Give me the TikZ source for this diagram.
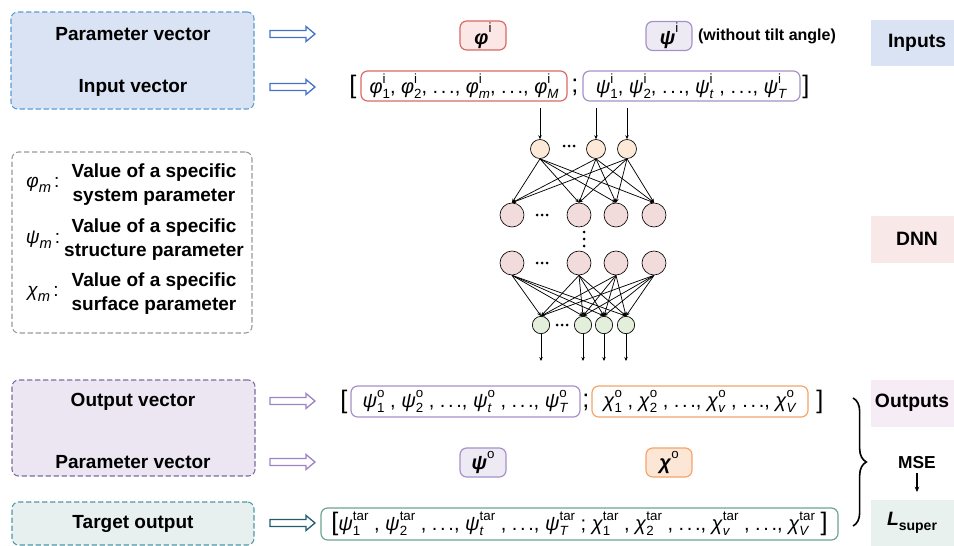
\documentclass[tikz,border=0pt]{standalone}
\usepackage{fontspec}
\setmainfont{Liberation Sans}
\usetikzlibrary{arrows.meta,decorations.pathreplacing,fit}
\definecolor{inFill}{HTML}{DAE3F3}
\definecolor{inLine}{HTML}{5B9BD5}
\definecolor{arrBlue}{HTML}{4472C4}
\definecolor{legLine}{HTML}{999999}
\definecolor{outFill}{HTML}{EBE6F1}
\definecolor{outLine}{HTML}{7F6A9E}
\definecolor{arrPurple}{HTML}{9C84C4}
\definecolor{tgtFill}{HTML}{E7F0EE}
\definecolor{tgtLine}{HTML}{4F97A8}
\definecolor{arrTeal}{HTML}{215E6E}
\definecolor{redLine}{HTML}{D86A63}
\definecolor{redFill}{HTML}{FBE8E6}
\definecolor{purLine}{HTML}{A591C9}
\definecolor{purFill}{HTML}{EEEAF4}
\definecolor{oraLine}{HTML}{F4A46A}
\definecolor{oraFill}{HTML}{FCE6D6}
\definecolor{grnLine}{HTML}{6BA58F}
\definecolor{dnnFill}{HTML}{F9E8E8}
\definecolor{outsFill}{HTML}{F6ECF6}
\definecolor{lsFill}{HTML}{E8F1EE}
\definecolor{nIn}{HTML}{FCE9D8}
\definecolor{nHid}{HTML}{F2DCDB}
\definecolor{nOut}{HTML}{E3EFDA}
\newcommand\subsz{\fontsize{10}{10}\selectfont}
\newcommand\SupSubX[2]{{\setbox0=\hbox{\subsz #1}\setbox2=\hbox{\subsz #2}%
\dimen0=\wd0 \ifdim\wd2>\dimen0 \dimen0=\wd2 \fi
\hbox to \dimen0{\rlap{\raise 0.95ex\box0}\lower 0.45ex\box2\hss}}}
\newcommand\VecEl[3]{\textit{#1}\SupSubX{#2}{#3}}
\newcommand\mydots{.\hspace{2pt}.\hspace{2pt}.}
\tikzset{
  harr/.pic={\draw[pic actions, line width=1pt, fill=white, line join=miter]
     (0,-3.5) -- (36,-3.5) -- (36,-7.5) -- (45,0) -- (36,7.5) -- (36,3.5) -- (0,3.5) -- cycle;},
  lbl/.style={font=\bfseries\fontsize{14.25}{17}\selectfont, inner sep=0},
  leg/.style={font=\bfseries\fontsize{14.25}{18}\selectfont, inner sep=0, align=center},
  dbox/.style={rounded corners=5pt, dash pattern=on 4pt off 2pt, line width=0.8pt, inner sep=0},
  rbox/.style={inner sep=0},
  vbox/.style={rounded corners=5pt, line width=0.9pt, fill=white, inner sep=0, font=\fontsize{15}{18}\selectfont},
  pbox/.style={rounded corners=5pt, line width=0.9pt, inner sep=0, minimum width=34.5pt, minimum height=21.75pt, font=\fontsize{15}{18}\selectfont},
  brk/.style={font=\fontsize{19}{20}\selectfont, inner sep=0},
  neuS/.style={circle, draw, line width=0.5pt, inner sep=0, minimum size=14.25pt},
  neuL/.style={circle, draw, line width=0.5pt, inner sep=0, minimum size=18pt},
  neuO/.style={circle, draw, line width=0.5pt, inner sep=0, minimum size=13pt},
  edge/.style={line width=0.55pt, -{Stealth[length=3pt,width=2.6pt]}},
}
\begin{document}
\begin{tikzpicture}[x=0.75pt,y=-0.75pt]
\useasboundingbox (0,0) rectangle (954,546);
% ---------- left boxes ----------
\node[dbox, draw=inLine, fill=inFill, fit={(11,12) (254,109)}] (inbox) {};
\node[lbl] (pv1) at (133,34.5) {Parameter vector};
\node[lbl] (iv) at (133,87.5) {Input vector};
\pic[draw=arrBlue] at (270,34) {harr};
\pic[draw=arrBlue] at (270,87) {harr};

\node[dbox, draw=legLine, fill=white, fit={(12,152) (252,333)}] (legbox) {};
\node[inner sep=0, font=\fontsize{14.25}{17}\selectfont] (s1) at (43,185) {\textit{φ}\raisebox{-0.5ex}{\fontsize{11}{11}\selectfont\textit{m}}\,:};
\node[inner sep=0, font=\fontsize{14.25}{17}\selectfont] (s2) at (43,240) {\textit{ψ}\raisebox{-0.5ex}{\fontsize{11}{11}\selectfont\textit{m}}\,:};
\node[inner sep=0, font=\fontsize{14.25}{17}\selectfont] (s3) at (43,294) {\textit{χ}\raisebox{-0.5ex}{\fontsize{11}{11}\selectfont\textit{m}}\,:};
\node[leg] (t1) at (154,185) {Value of a specific\\system parameter};
\node[leg] (t2) at (154,240) {Value of a specific\\structure parameter};
\node[leg] (t3) at (154,294) {Value of a specific\\surface parameter};

\node[dbox, draw=outLine, fill=outFill, fit={(12,380) (255,476)}] (outbox) {};
\node[lbl] (ov) at (133,401.5) {Output vector};
\node[lbl] (pv2) at (133,462.5) {Parameter vector};
\pic[draw=arrPurple] at (270,401) {harr};
\pic[draw=arrPurple] at (270,462) {harr};

\node[dbox, draw=tgtLine, fill=tgtFill, fit={(12,502) (254,545)}] (tgtbox) {};
\node[lbl] (to) at (133,523.5) {Target output};
\pic[draw=arrTeal, line width=1.3pt] at (270,523) {harr};

% ---------- top parameter boxes ----------
\node[pbox, draw=redLine, fill=redFill] (phib) at (483,35.5) {\textbf{\textit{φ}}\raisebox{1.1ex}{\subsz i}};
\node[pbox, draw=purLine, fill=purFill] (psib) at (669,36) {\textbf{\textit{ψ}}\raisebox{1.1ex}{\subsz i}};
\node[inner sep=0, font=\bfseries\fontsize{12}{14}\selectfont] (tilt) at (767,36.5) {(without tilt angle)};

% ---------- input vector ----------
\node[brk] (lb1) at (353,87) {[};
\node[vbox, draw=redLine, minimum width=154.5pt, minimum height=22.5pt] (phiv) at (464,86)
  {\VecEl{φ}{i}{1}, \VecEl{φ}{i}{2}, \mydots, \VecEl{φ}{i}{\textit{m}}, \mydots, \VecEl{φ}{i}{\textit{M}}};
\node[brk] (sc1) at (575,87) {;};
\node[vbox, draw=purLine, minimum width=162.75pt, minimum height=22.5pt] (psiv) at (691.5,86)
  {\VecEl{ψ}{i}{1}, \VecEl{ψ}{i}{2}, \mydots, \VecEl{ψ}{i}{\textit{t}} , \mydots, \VecEl{ψ}{i}{\textit{T}}};
\node[brk] (rb1) at (806,87) {]};

% ---------- DNN ----------
\node[neuS, fill=nIn] (i1) at (540,149) {};
\node[neuS, fill=nIn] (i2) at (596,149) {};
\node[neuS, fill=nIn] (i3) at (627,149) {};
\node[neuL, fill=nHid] (h1) at (512,215) {};
\node[neuL, fill=nHid] (h2) at (579,215) {};
\node[neuL, fill=nHid] (h3) at (616,215) {};
\node[neuL, fill=nHid] (h4) at (654,215) {};
\node[neuL, fill=nHid] (g1) at (512,263) {};
\node[neuL, fill=nHid] (g2) at (579,263) {};
\node[neuL, fill=nHid] (g3) at (616,263) {};
\node[neuL, fill=nHid] (g4) at (654,263) {};
\node[neuO, fill=nOut] (o1) at (541,325) {};
\node[neuO, fill=nOut] (o2) at (583,325) {};
\node[neuO, fill=nOut] (o3) at (604,325) {};
\node[neuO, fill=nOut] (o4) at (626,325) {};
\foreach \dx in {-5,0,5} {
  \fill (569+\dx,146) circle (1.5);
  \fill (542+\dx,215) circle (1.5);
  \fill (542+\dx,263) circle (1.5);
  \fill (562+\dx,325) circle (1.5);
}
\foreach \dy in {232,239,246} \fill (584,\dy) circle (1.5);
\foreach \a in {i1,i2,i3} \foreach \b in {h1,h2,h3,h4} \draw[edge] (\a.south) -- (\b.north);
\foreach \a in {g1,g2,g3,g4} \foreach \b in {o1,o2,o3,o4} \draw[edge] (\a.south) -- (\b.north);
\coordinate (a1) at (540,108); \coordinate (a2) at (596,108); \coordinate (a3) at (627,108);
\draw[edge] (a1) -- (i1.north); \draw[edge] (a2) -- (i2.north); \draw[edge] (a3) -- (i3.north);
\coordinate (b1) at (541,361); \coordinate (b2) at (583,361); \coordinate (b3) at (604,361); \coordinate (b4) at (626,361);
\draw[edge] (o1.south) -- (b1); \draw[edge] (o2.south) -- (b2); \draw[edge] (o3.south) -- (b3); \draw[edge] (o4.south) -- (b4);

% ---------- output vector ----------
\node[brk] (lb2) at (344,402) {[};
\node[vbox, draw=purLine, minimum width=171.75pt, minimum height=23.25pt] (psio) at (465.5,401.5)
  {\VecEl{ψ}{o}{1} , \VecEl{ψ}{o}{2} , \mydots, \VecEl{ψ}{o}{\textit{t}} , \mydots, \VecEl{ψ}{o}{\textit{T}}};
\node[brk] (sc2) at (586,402) {;};
\node[vbox, draw=oraLine, minimum width=162pt, minimum height=23.25pt] (chio) at (700,401.5)
  {\VecEl{χ}{o}{1} , \VecEl{χ}{o}{2} , \mydots, \VecEl{χ}{o}{\textit{v}} , \mydots, \VecEl{χ}{o}{\textit{V}}};
\node[brk] (rb2) at (820,402) {]};

\node[pbox, draw=purLine, fill=purFill] (psiob) at (483,462.5) {\textbf{\textit{ψ}}\raisebox{1.1ex}{\subsz o}};
\node[pbox, draw=oraLine, fill=oraFill] (chiob) at (669,462.5) {\textbf{\textit{χ}}\raisebox{1.1ex}{\subsz o}};

% ---------- target vector ----------
\node[vbox, draw=grnLine, minimum width=387.75pt, minimum height=24pt] (tgtv) at (579.5,524)
  {{\fontsize{19}{20}\selectfont[}\VecEl{ψ}{tar}{1} , \VecEl{ψ}{tar}{2} , \mydots, \VecEl{ψ}{tar}{\textit{t}} , \mydots, \VecEl{ψ}{tar}{\textit{T}} ; \VecEl{χ}{tar}{1} , \VecEl{χ}{tar}{2} , \mydots, \VecEl{χ}{tar}{\textit{v}} , \mydots, \VecEl{χ}{tar}{\textit{V}} {\fontsize{19}{20}\selectfont]}};

% ---------- right labels ----------
\node[rbox, fill=inFill, fit={(871,20) (954,66)}] (inputsb) {};
\node[lbl, font=\bfseries\fontsize{14.5}{17}\selectfont] (inputs) at (917,43) {Inputs};
\node[rbox, fill=dnnFill, fit={(871,216) (954,263)}] (dnnb) {};
\node[lbl, font=\bfseries\fontsize{14.5}{17}\selectfont] (dnn) at (917,239) {DNN};
\node[rbox, fill=outsFill, fit={(871,380) (954,427)}] (outsb) {};
\node[lbl, font=\bfseries\fontsize{14.5}{17}\selectfont] (outs) at (912,403) {Outputs};
\node[rbox, fill=lsFill, fit={(871,500) (954,546)}] (lsb) {};
\node[lbl, font=\bfseries\fontsize{14.5}{17}\selectfont] (lsup) at (912,523) {\textit{L}\raisebox{-0.45ex}{\fontsize{10.5}{11}\selectfont super}};
\node[lbl, font=\bfseries\fontsize{13}{15}\selectfont] (mse) at (917,463) {MSE};
\coordinate (mend) at (917,492);
\draw[line width=0.8pt, -{Stealth[length=4pt,width=3.5pt]}] ([yshift=-3pt]mse.south) -- (mend);
\coordinate (bt) at (853,398); \coordinate (bb) at (853,526);
\draw[line width=1.2pt, decorate, decoration={brace, amplitude=10pt}] (bt) -- (bb);
\end{tikzpicture}
\end{document}
